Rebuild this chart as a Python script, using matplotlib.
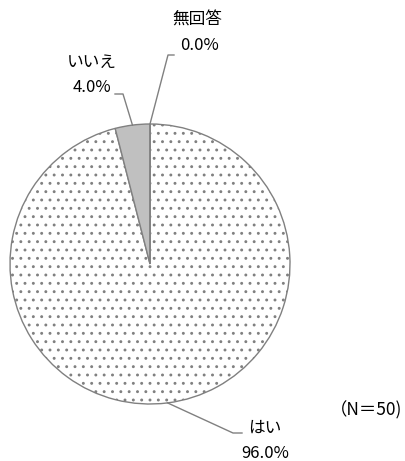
import numpy as np
import matplotlib.pyplot as plt

plt.rcParams['font.family'] = ['Noto Sans CJK JP', 'DejaVu Sans']
plt.rcParams['hatch.linewidth'] = 0.9

labels = ['はい', 'いいえ', '無回答']
values = [96.0, 4.0, 0.0]
n_total = 50

W, H = 406, 461
fig = plt.figure(figsize=(W / 100, H / 100), dpi=100)
ax = fig.add_axes([0, 0, 1, 1])

cx, cy, r = 150, H - 264, 140
gray = '#808080'
wedges, _ = ax.pie(values, startangle=90, counterclock=False, center=(cx, cy),
                   radius=r, colors=['white', '#c0c0c0', 'white'],
                   wedgeprops=dict(edgecolor=gray, linewidth=1.0), frame=True)
wedges[0].set_hatch('..')
ax.set_xlim(0, W)
ax.set_ylim(0, H)
ax.set_aspect('equal')
ax.axis('off')

# label positions (pixel coords from top) and elbow points of the leader lines
lab_pos = [(265, 428), (92, 62), (197, 20)]
elbows = [[(233, 433), (242, 433)], [(123, 94), (115, 94)], [(168, 55), (174, 55)]]
pct_x = [265, 92, 200]

for w, lab, v, (lx, ly), elb, tx in zip(wedges, labels, values, lab_pos, elbows, pct_x):
    ang = np.deg2rad((w.theta1 + w.theta2) / 2)
    px, py = cx + r * np.cos(ang), cy + r * np.sin(ang)
    xs = [px] + [e[0] for e in elb]
    ys = [py] + [H - e[1] for e in elb]
    ax.plot(xs, ys, color=gray, lw=1.0)
    ax.text(lx, H - ly, lab, ha='center', va='center', fontsize=12)
    ax.text(tx, H - ly - 25, f'{v:.1f}%', ha='center', va='center', fontsize=12)

ax.text(366, H - 410, f'（N＝{n_total})', ha='center', va='center', fontsize=12.5)

fig.savefig('out.png', dpi=100)
